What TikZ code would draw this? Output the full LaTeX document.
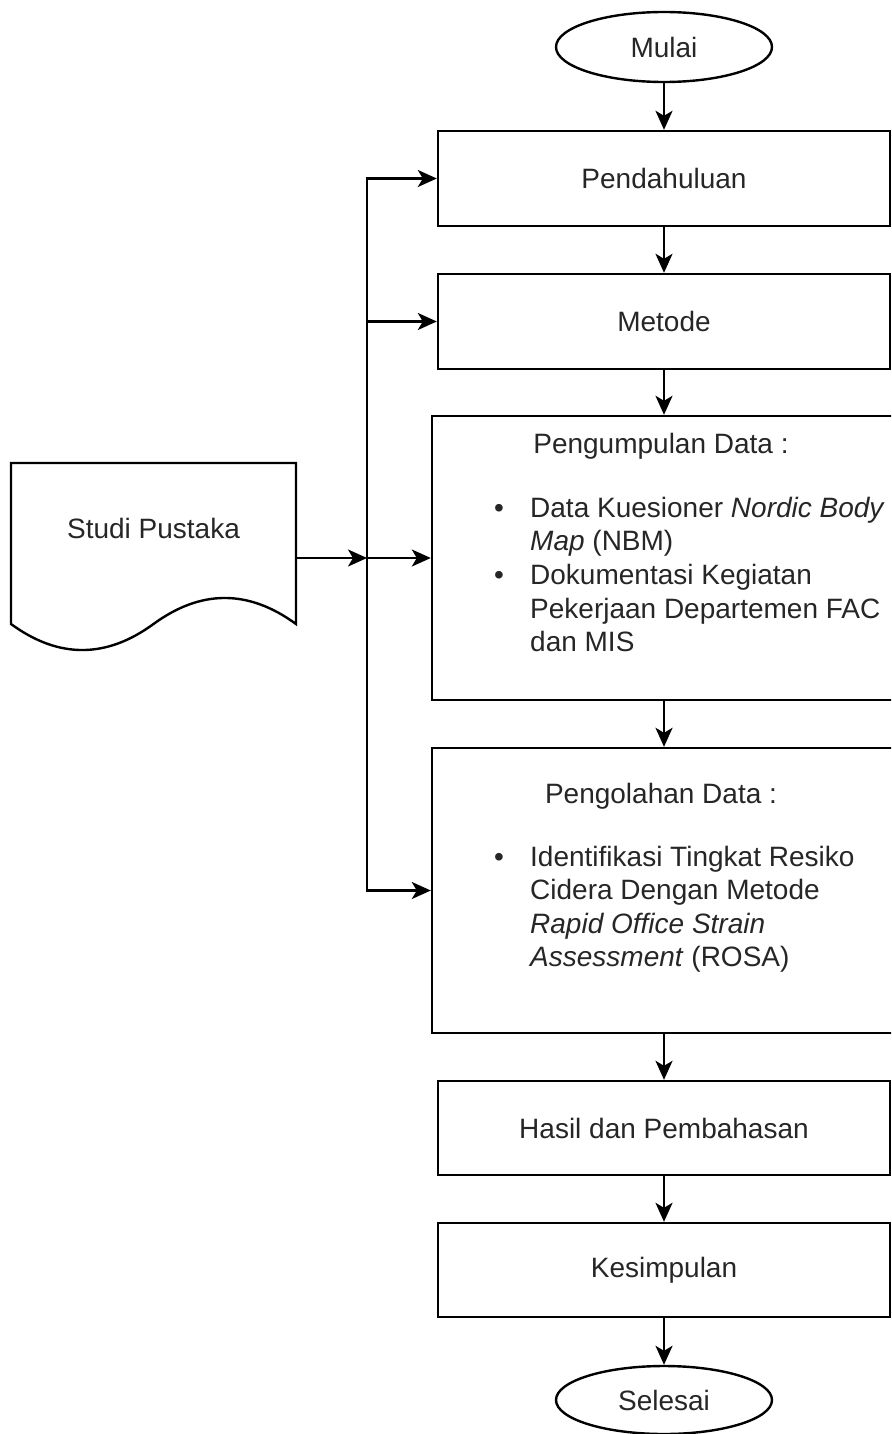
\documentclass[tikz,border=0pt]{standalone}
\usepackage{fontspec}
\setmainfont{Liberation Sans}
\usetikzlibrary{arrows.meta,shapes.geometric}
\begin{document}
\begin{tikzpicture}[x=1pt,y=-1pt,line width=2.4pt,
  txt/.style={font=\fontsize{28}{33.5}\selectfont, text=black!85, inner sep=0pt},
  box/.style={draw, rectangle, txt},
  term/.style={draw, ellipse, txt, minimum width=216pt, minimum height=70pt},
  arr/.style={-{Stealth[length=19pt,width=17pt,inset=5pt]}}]
\clip (0,0) rectangle (891,1434);
% terminals and boxes
\node[term] (mulai) at (664,47) {Mulai};
\node[box, minimum width=452pt, minimum height=95pt] (pend) at (664,178.5) {Pendahuluan};
\node[box, minimum width=452pt, minimum height=95pt] (metode) at (664,321.5) {Metode};
\node[box, minimum width=464pt, minimum height=284pt] (kumpul) at (664,558) {};
\node[box, minimum width=464pt, minimum height=285pt] (olah) at (664,890.5) {};
\node[box, minimum width=452pt, minimum height=94pt] (hasil) at (664,1128) {Hasil dan Pembahasan};
\node[box, minimum width=452pt, minimum height=94pt] (simpul) at (664,1270) {Kesimpulan};
\node[term, minimum height=68pt] (selesai) at (664,1400) {Selesai};
% document shape
\draw (11,463) -- (296,463) -- (296,624)
  .. controls (248.5,589.3) and (201,589.3) .. (153.5,624)
  .. controls (106,658.7) and (58.5,658.7) .. (11,624) -- cycle;
\node[txt] (studi) at (153.5,528) {Studi Pustaka};
% texts in big boxes
\node[txt, anchor=base] (t1) at (661,453) {Pengumpulan Data :};
\node[txt, anchor=base] (b1) at (499,517) {•};
\node[txt, anchor=base west] (l11) at (529,517) {Data Kuesioner \textit{Nordic Body}};
\node[txt, anchor=base west] (l12) at (529,550.5) {\textit{Map} (NBM)};
\node[txt, anchor=base] (b2) at (499,584.5) {•};
\node[txt, anchor=base west] (l21) at (529,584.5) {Dokumentasi Kegiatan};
\node[txt, anchor=base west] (l22) at (529,618) {Pekerjaan Departemen FAC};
\node[txt, anchor=base west] (l23) at (529,651) {dan MIS};
\node[txt, anchor=base] (t2) at (661,803) {Pengolahan Data :};
\node[txt, anchor=base] (b3) at (499,866) {•};
\node[txt, anchor=base west] (l31) at (529,866) {Identifikasi Tingkat Resiko};
\node[txt, anchor=base west] (l32) at (529,899.5) {Cidera Dengan Metode};
\node[txt, anchor=base west] (l33) at (529,933) {\textit{Rapid Office Strain}};
\node[txt, anchor=base west] (l34) at (529,966.5) {\textit{Assessment} (ROSA)};
% junction
\coordinate (docout) at (296,558);
\coordinate (j) at (367,558);
\coordinate (jtop) at (367,178.5);
% connectors
\draw[arr] (mulai) -- (pend);
\draw[arr] (pend) -- (metode);
\draw[arr] (metode) -- (kumpul);
\draw[arr] (kumpul) -- (olah);
\draw[arr] (olah) -- (hasil);
\draw[arr] (hasil) -- (simpul);
\draw[arr] (simpul) -- (selesai);
\draw[arr] (docout) -- (j);
\draw[arr] (j |- olah.west) -- (jtop) -- (pend.west);
\draw[arr] (jtop) |- (olah.west);
\draw[arr] (jtop |- metode.west) -- (metode.west);
\draw[arr] (j) -- (kumpul.west);
\end{tikzpicture}
\end{document}
